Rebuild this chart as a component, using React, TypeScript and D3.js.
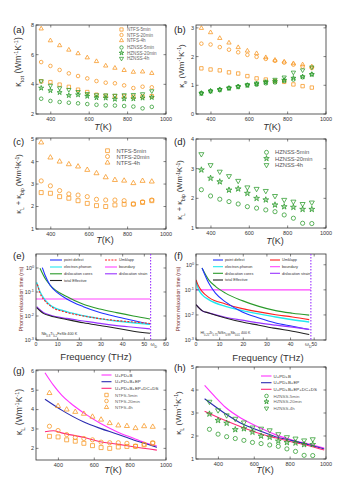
import React from 'react';
import * as d3 from 'd3';

// ---------------- data ----------------
const T = [350, 398, 446, 494, 542, 590, 638, 686, 734, 782, 830, 878, 926];
const ntfsNames = ['NTFS-5min', 'NTFS-20min', 'NTFS-4h'];
const hzNames = ['HZNSS-5min', 'HZNSS-20min', 'HZNSS-4h'];

// (a) total thermal conductivity
const ntfs5Tot = [4.2, 4.15, 3.98, 3.83, 3.64, 3.48, 3.3, 3.23, 3.2, 3.21, 3.17, 3.18, 3.2];
const ntfs20Tot = [5.5, 5.24, 4.97, 4.74, 4.56, 4.4, 4.22, 4.11, 4.07, 3.93, 3.75, 3.84, 3.8];
const ntfs4hTot = [7.75, 6.95, 6.62, 6.32, 6.08, 5.8, 5.55, 5.25, 5.1, 4.95, 4.83, 4.85, 4.75];
const hz5Tot = [3.03, 2.88, 2.81, 2.76, 2.72, 2.67, 2.62, 2.58, 2.57, 2.54, 2.5, 2.38, 2.48];
const hz20Tot = [3.75, 3.58, 3.45, 3.25, 3.3, 3.2, 3.1, 3.08, 3.0, 3.02, 3.03, 3.08, 3.12];
const hz4hTot = [4.22, 3.92, 3.75, 3.64, 3.5, 3.36, 3.28, 3.27, 3.25, 3.28, 3.3, 3.35, 3.55];

// (b) electronic thermal conductivity
const ntfs5E = [1.59, 1.55, 1.52, 1.45, 1.41, 1.32, 1.24, 1.2, 1.15, 1.12, 1.03, 0.97, 0.92];
const ntfs20E = [2.45, 2.42, 2.33, 2.24, 2.15, 2.06, 1.99, 1.92, 1.85, 1.79, 1.72, 1.65, 1.6];
const ntfs4hE = [2.99, 2.84, 2.64, 2.48, 2.32, 2.2, 2.11, 1.97, 1.88, 1.82, 1.76, 1.72, 1.65];
const hz5E = [0.73, 0.8, 0.85, 0.9, 0.96, 1.0, 1.02, 1.07, 1.1, 1.15, 1.2, 1.28, 1.38];
const hz20E = [0.72, 0.8, 0.85, 0.9, 0.95, 1.0, 1.05, 1.1, 1.13, 1.18, 1.25, 1.3, 1.38];
const hz4hE = [0.72, 0.79, 0.84, 0.9, 0.95, 1.02, 1.07, 1.13, 1.2, 1.28, 1.45, 1.53, 1.63];

// (c)/(g) and (d)/(h) lattice + bipolar
const ntfs5L = [2.62, 2.59, 2.44, 2.37, 2.26, 2.14, 2.04, 2.0, 2.07, 2.1, 2.11, 2.18, 2.26];
const ntfs20L = [3.14, 2.92, 2.71, 2.56, 2.51, 2.44, 2.32, 2.29, 2.29, 2.26, 2.11, 2.21, 2.29];
const ntfs4hL = [4.85, 4.18, 4.0, 3.88, 3.78, 3.63, 3.48, 3.3, 3.18, 3.15, 3.04, 3.14, 3.11];
const hz5L = [2.29, 2.08, 1.97, 1.89, 1.81, 1.72, 1.67, 1.61, 1.55, 1.44, 1.33, 1.16, 1.15];
const hz20L = [2.96, 2.68, 2.56, 2.28, 2.32, 2.17, 2.0, 1.95, 1.78, 1.72, 1.7, 1.63, 1.63];
const hz4hL = [3.49, 3.12, 2.9, 2.75, 2.59, 2.37, 2.32, 2.25, 2.08, 1.95, 1.89, 1.81, 1.86];

// (g) model curves
const modelNames = ['U+PD+B', 'U+PD+B+EP', 'U+PD+B+EP+DC+DS'];
const gT1 = [325, 372, 418, 465, 539, 633, 726, 819, 893, 949];
const gUPDB = [5.9, 5.26, 4.75, 4.35, 3.84, 3.29, 2.86, 2.52, 2.26, 2.12];
const gT2 = [325, 418, 539, 633, 726, 819, 893, 949];
const gEP = [4.53, 3.97, 3.37, 3.03, 2.74, 2.43, 2.22, 2.05];
const gT3 = [325, 372, 418, 539, 633, 726, 819, 949];
const gAll = [2.86, 2.91, 2.8, 2.57, 2.34, 2.22, 2.08, 1.91];
// (h) model curves
const hT1 = [323, 383, 439, 532, 625, 718, 811, 904, 990];
const hUPDB = [4.2, 3.69, 3.25, 2.75, 2.38, 2.06, 1.83, 1.65, 1.48];
const hT2 = [323, 439, 532, 625, 718, 811, 904, 990];
const hEP = [3.62, 2.97, 2.53, 2.24, 1.97, 1.8, 1.62, 1.44];
const hAll = [3.08, 2.67, 2.38, 2.12, 1.92, 1.74, 1.58, 1.39];

// (e) relaxation times (ns) vs frequency (THz)
const eBlueF = [2.92, 4.15, 6.46, 10.3, 14.15, 21.85, 29.5, 37.2, 44.9, 52.6];
const eBlueTau = [1.03, 0.513, 0.195, 0.0871, 0.0513, 0.0245, 0.0141, 0.00933, 0.00646, 0.00447];
const eGreenF = [1.85, 4.15, 6.46, 14.15, 21.85, 29.5, 37.2, 44.9, 52.6];
const eGreenTau = [0.968, 0.372, 0.195, 0.0646, 0.0309, 0.0195, 0.0138, 0.01, 0.0075];
const eCyanF = [0.31, 1.85, 4.15, 6.46, 14.15, 21.85, 29.5, 37.2, 44.9, 52.6];
const eCyanTau = [0.251, 0.102, 0.0468, 0.0288, 0.0151, 0.0102, 0.00776, 0.00617, 0.00525, 0.00447];
const eRedF = [0.62, 1.85, 4.15, 6.46, 14.15, 21.85, 29.5, 37.2, 44.9, 52.6];
const eRedTau = [0.209, 0.0912, 0.0422, 0.0269, 0.0141, 0.01, 0.00776, 0.00646, 0.00562, 0.0049];
const eVioF = [0.31, 3.38, 6.46, 14.15, 21.85, 29.5, 37.2, 44.9, 52.6];
const eVioTau = [0.0245, 0.0141, 0.011, 0.0079, 0.0062, 0.0049, 0.004, 0.0034, 0.0029];
const eBlkTau = [0.0224, 0.0129, 0.0102, 0.0072, 0.0052, 0.004, 0.0031, 0.0023, 0.0019];
const eBoundaryF = [0, 52.6];
const eBoundaryTau = [0.051, 0.051];
const eDebye = 52.9;

// (f)
const fBlueF = [2.55, 5.38, 8.22, 12.46, 19.55, 26.6, 33.7, 40.8, 47.9];
const fBlueTau = [0.741, 0.186, 0.0741, 0.0331, 0.0132, 0.0076, 0.0048, 0.00355, 0.00263];
const fGreenTau = [0.741, 0.251, 0.138, 0.0741, 0.0372, 0.0219, 0.0148, 0.0117, 0.0098];
const fRedF = [0, 1.13, 2.55, 5.38, 12.46, 19.55, 26.6, 33.7, 40.8, 47.9];
const fRedTau = [0.251, 0.138, 0.087, 0.0501, 0.0275, 0.0178, 0.0132, 0.0102, 0.0083, 0.00646];
const fCyanTau = [0.219, 0.102, 0.0646, 0.0407, 0.0219, 0.0148, 0.011, 0.0083, 0.00646, 0.00525];
const fVioF = [0, 2.55, 5.38, 12.46, 19.55, 26.6, 33.7, 40.8, 47.9];
const fVioTau = [0.0257, 0.0148, 0.012, 0.0081, 0.0062, 0.0048, 0.0039, 0.00324, 0.00263];
const fBlkTau = [0.0257, 0.0148, 0.012, 0.0076, 0.0052, 0.0039, 0.0029, 0.00224, 0.00166];
const fBoundaryF = [0, 48.6];
const fBoundaryTau = [0.1, 0.1];
const fDebye = 48.6;

const mechNames = ['point defect', 'Umklapp', 'electron-phonon', 'boundary', 'dislocation cores', 'dislocation strain', 'total Effective'];

const tTicks = [400, 600, 800, 1000];
const freqTicksE = [0, 10, 20, 30, 40, 50, 60];
const freqTicksF = [0, 10, 20, 30, 40, 50];
const logTicks = [1, 0.1, 0.01, 0.001];

// ---------------- styles ----------------
const ORANGE = '#f7941d';
const GREEN = '#2a9a2a';
const C_BLUE = '#2233ff';
const C_RED = '#ff2222';
const C_CYAN = '#22e8f0';
const C_MAG = '#ff44ff';
const C_GREEN = '#2a9a2a';
const C_VIO = '#9933ff';
const C_BLK = '#222222';
const M_MAG = '#ff33ff';
const M_BLUE = '#2b2bb0';
const M_PINK = '#ff2a78';
const INK = '#333';

type Sym = 'square' | 'circle' | 'tri' | 'tridown' | 'star';

function Marker({ x, y, sym, color, size }: { x: number; y: number; sym: Sym; color: string; size: number }) {
  let type: any = d3.symbolCircle;
  let area = Math.PI * (size / 2) ** 2;
  if (sym === 'square') { type = d3.symbolSquare; area = size * size * 0.9; }
  else if (sym === 'tri' || sym === 'tridown') { type = d3.symbolTriangle; area = (size * 1.2) ** 2 * 0.433; }
  else if (sym === 'star') { type = d3.symbolStar; area = size * size * 0.6; }
  const d = d3.symbol().type(type).size(area)() as string;
  return (
    <path d={d} transform={`translate(${x},${y})${sym === 'tridown' ? ' rotate(180)' : ''}`}
      fill={sym === 'star' ? color : 'none'} fillOpacity={sym === 'star' ? 0.35 : 1}
      stroke={color} strokeWidth={0.75} />
  );
}

type Pts = { vals: number[]; sym: Sym; color: string };
type Curve = { xs: number[]; ys: number[]; color: string; dash?: string; width?: number };

function Panel(p: {
  id: string; l: number; r: number; t: number; b: number;
  xDom: [number, number]; yDom: [number, number]; log?: boolean;
  xTicks: number[]; yTicks: number[]; points?: Pts[]; ms?: number; curves?: Curve[];
  fs?: number; xFmt?: (v: number) => any; yFmt?: (v: number) => any; children?: any;
}) {
  const fs = p.fs ?? 5.5;
  const x = d3.scaleLinear().domain(p.xDom).range([p.l, p.r]);
  const y: any = p.log ? d3.scaleLog().domain(p.yDom).range([p.b, p.t]) : d3.scaleLinear().domain(p.yDom).range([p.b, p.t]);
  const line = d3.line<[number, number]>().x(d => x(d[0])).y(d => y(d[1])).curve(d3.curveMonotoneX);
  return (
    <g>
      <defs>
        <clipPath id={p.id}><rect x={p.l} y={p.t} width={p.r - p.l} height={p.b - p.t} /></clipPath>
      </defs>
      <g clipPath={`url(#${p.id})`}>
        {(p.curves || []).map((c, i) => (
          <path key={i} d={line(c.xs.map((v, j) => [v, c.ys[j]] as [number, number])) as string}
            fill="none" stroke={c.color} strokeWidth={c.width ?? 1} strokeDasharray={c.dash} />
        ))}
      </g>
      {(p.points || []).map((s, si) => T.map((tv, i) => (
        <Marker key={`${si}-${i}`} x={x(tv)} y={y(s.vals[i])} sym={s.sym} color={s.color} size={p.ms ?? 4} />
      )))}
      <rect x={p.l} y={p.t} width={p.r - p.l} height={p.b - p.t} fill="none" stroke={INK} strokeWidth={0.8} />
      {p.xTicks.map(v => (
        <g key={'x' + v}>
          <line x1={x(v)} x2={x(v)} y1={p.b} y2={p.b - 2.5} stroke={INK} strokeWidth={0.6} />
          <line x1={x(v)} x2={x(v)} y1={p.t} y2={p.t + 2.5} stroke={INK} strokeWidth={0.6} />
          <text x={x(v)} y={p.b + fs + 1} fontSize={fs} textAnchor="middle" fill={INK}>{p.xFmt ? p.xFmt(v) : v}</text>
        </g>
      ))}
      {p.yTicks.map(v => (
        <g key={'y' + v}>
          <line x1={p.l} x2={p.l + 2.5} y1={y(v)} y2={y(v)} stroke={INK} strokeWidth={0.6} />
          <line x1={p.r} x2={p.r - 2.5} y1={y(v)} y2={y(v)} stroke={INK} strokeWidth={0.6} />
          <text x={p.l - 2} y={y(v) + fs * 0.35} fontSize={fs} textAnchor="end" fill={INK}>{p.yFmt ? p.yFmt(v) : v}</text>
        </g>
      ))}
      {p.children}
    </g>
  );
}

function SymLegend({ x, tx, ys, items, fs, size, color }: { x: number; tx: number; ys: number[]; items: { sym: Sym; color: string; label: string }[]; fs: number; size: number; color?: string }) {
  return (
    <g>
      {items.map((it, i) => (
        <g key={i}>
          <Marker x={x} y={ys[i]} sym={it.sym} color={it.color} size={size} />
          <text x={tx} y={ys[i] + fs * 0.35} fontSize={fs} fill={color ?? INK}>{it.label}</text>
        </g>
      ))}
    </g>
  );
}

function LineLegend({ x1, x2, tx, y, color, label, fs, dash, width }: { x1: number; x2: number; tx: number; y: number; color: string; label: string; fs: number; dash?: string; width?: number }) {
  return (
    <g>
      <line x1={x1} x2={x2} y1={y} y2={y} stroke={color} strokeWidth={width ?? 1} strokeDasharray={dash} />
      <text x={tx} y={y + fs * 0.35} fontSize={fs} fill={INK}>{label}</text>
    </g>
  );
}

function KLabel({ cx, cy, fs, parts }: { cx: number; cy: number; fs: number; parts: any }) {
  return (
    <text transform={`translate(${cx},${cy}) rotate(-90)`} textAnchor="middle" fontSize={fs} fill={INK}>{parts}</text>
  );
}

function unit(fs: number) {
  return [
    <tspan key="u1"> (Wm</tspan>,
    <tspan key="u2" baselineShift="super" fontSize={fs * 0.65}>-1</tspan>,
    <tspan key="u3">K</tspan>,
    <tspan key="u4" baselineShift="super" fontSize={fs * 0.65}>-1</tspan>,
    <tspan key="u5">)</tspan>,
  ];
}

function TLabel({ x, y, fs }: { x: number; y: number; fs: number }) {
  return (
    <text x={x} y={y} fontSize={fs} textAnchor="middle" fill={INK}>
      <tspan fontStyle="italic">T</tspan>(K)
    </text>
  );
}

function PanelTag({ x, y, s }: { x: number; y: number; s: string }) {
  return <text x={x} y={y} fontSize={9.5} fill="#222">{s}</text>;
}

const logFmt = (v: number) => {
  const e = Math.round(Math.log10(v));
  return <>10<tspan baselineShift="super" fontSize={3.8}>{e}</tspan></>;
};

export default function App() {
  const ntfsTotPts: Pts[] = [
    { vals: ntfs5Tot, sym: 'square', color: ORANGE },
    { vals: ntfs20Tot, sym: 'circle', color: ORANGE },
    { vals: ntfs4hTot, sym: 'tri', color: ORANGE },
    { vals: hz5Tot, sym: 'circle', color: GREEN },
    { vals: hz20Tot, sym: 'star', color: GREEN },
    { vals: hz4hTot, sym: 'tridown', color: GREEN },
  ];
  const ePts: Pts[] = [
    { vals: ntfs5E, sym: 'square', color: ORANGE },
    { vals: ntfs20E, sym: 'circle', color: ORANGE },
    { vals: ntfs4hE, sym: 'tri', color: ORANGE },
    { vals: hz5E, sym: 'circle', color: GREEN },
    { vals: hz20E, sym: 'star', color: GREEN },
    { vals: hz4hE, sym: 'tridown', color: GREEN },
  ];
  const ntfsL: Pts[] = [
    { vals: ntfs5L, sym: 'square', color: ORANGE },
    { vals: ntfs20L, sym: 'circle', color: ORANGE },
    { vals: ntfs4hL, sym: 'tri', color: ORANGE },
  ];
  const hzL: Pts[] = [
    { vals: hz5L, sym: 'circle', color: GREEN },
    { vals: hz20L, sym: 'star', color: GREEN },
    { vals: hz4hL, sym: 'tridown', color: GREEN },
  ];
  const ntfsItems = ntfsNames.map((n, i) => ({ label: n, sym: (['square', 'circle', 'tri'] as Sym[])[i], color: ORANGE }));
  const hzItems = hzNames.map((n, i) => ({ label: n, sym: (['circle', 'star', 'tridown'] as Sym[])[i], color: GREEN }));

  const eCurves: Curve[] = [
    { xs: eBoundaryF, ys: eBoundaryTau, color: C_MAG, width: 1.2 },
    { xs: eGreenF, ys: eGreenTau, color: C_GREEN, width: 1.1 },
    { xs: eBlueF, ys: eBlueTau, color: C_BLUE, width: 1.1 },
    { xs: eCyanF, ys: eCyanTau, color: C_CYAN, width: 1.4 },
    { xs: eRedF, ys: eRedTau, color: C_RED, width: 1.1, dash: '2,1.5' },
    { xs: eVioF, ys: eVioTau, color: C_VIO, width: 1.2 },
    { xs: eVioF, ys: eBlkTau, color: C_BLK, width: 1.1 },
  ];
  const fCurves: Curve[] = [
    { xs: fBoundaryF, ys: fBoundaryTau, color: C_MAG, width: 1.2 },
    { xs: fBlueF, ys: fGreenTau, color: C_GREEN, width: 1.1 },
    { xs: fRedF, ys: fCyanTau, color: C_CYAN, width: 1.4 },
    { xs: fRedF, ys: fRedTau, color: C_RED, width: 1.1 },
    { xs: fBlueF, ys: fBlueTau, color: C_BLUE, width: 1.1 },
    { xs: fVioF, ys: fVioTau, color: C_VIO, width: 1.2 },
    { xs: fVioF, ys: fBlkTau, color: C_BLK, width: 1.1 },
  ];
  const mechColors = [C_BLUE, C_RED, C_CYAN, C_MAG, C_GREEN, C_VIO, C_BLK];

  const xE = d3.scaleLinear().domain([0, 60]).range([36, 166]);
  const xF = d3.scaleLinear().domain([0, 55]).range([196, 326]);

  const mechLegend = (c1: number, c2: number, lw: number, ys: number[], dashU: boolean) =>
    mechNames.map((n, i) => {
      const col = i === 6 ? 0 : i % 2;
      const row = i === 6 ? 3 : Math.floor(i / 2);
      const x0 = col === 0 ? c1 : c2;
      return (
        <LineLegend key={n} x1={x0} x2={x0 + lw} tx={x0 + lw + 2} y={ys[row]} color={mechColors[i]} label={n} fs={3.8}
          dash={i === 1 && dashU ? '2,1.2' : undefined} width={1.1} />
      );
    });

  return (
    <svg width={355} height={500} style={{ position: 'absolute', left: 0, top: 0, background: '#fff' }}
      fontFamily="'Liberation Sans', Arial, Helvetica, sans-serif">
      <rect width={355} height={500} fill="#fff" />

      {/* (a) */}
      <Panel id="ca" l={36} r={166} t={25} b={114} xDom={[323, 1000]} yDom={[2, 8]} xTicks={tTicks} yTicks={[2, 4, 6, 8]}
        points={ntfsTotPts} ms={3.6}>
        <SymLegend x={121.5} tx={127} ys={[29.5, 35, 40.5, 47.5, 53, 58.5]} items={[...ntfsItems, ...hzItems]} fs={4.6} size={3.4} color="#666" />
      </Panel>
      <PanelTag x={13} y={33} s="(a)" />
      <KLabel cx={21} cy={62} fs={8.5} parts={[<tspan key="k">κ</tspan>, <tspan key="s" baselineShift="sub" fontSize={6}>tot</tspan>, ...unit(8.5)]} />
      <TLabel x={103} y={130} fs={9} />

      {/* (b) */}
      <Panel id="cb" l={196} r={326} t={25} b={114} xDom={[322, 1000]} yDom={[0, 3.1]} xTicks={tTicks} yTicks={[0, 1, 2, 3]}
        points={ePts} ms={3.6} />
      <PanelTag x={174} y={33} s="(b)" />
      <KLabel cx={184} cy={66} fs={8} parts={[<tspan key="k">κ</tspan>, <tspan key="s" baselineShift="sub" fontSize={5.5}>e</tspan>, ...unit(8)]} />
      <TLabel x={272} y={130} fs={9} />

      {/* (c) */}
      <Panel id="cc" l={36} r={166} t={138} b={229} xDom={[323, 1000]} yDom={[1, 5.05]} xTicks={tTicks} yTicks={[1, 2, 3, 4, 5]}
        points={ntfsL} ms={4.2}>
        <SymLegend x={107.5} tx={116.5} ys={[150.7, 156.5, 162.7]} items={ntfsItems} fs={5.8} size={4} color="#555" />
      </Panel>
      <PanelTag x={13} y={145} s="(c)" />
      <KLabel cx={21} cy={184} fs={7.5} parts={[<tspan key="k">κ</tspan>, <tspan key="s" baselineShift="sub" fontSize={5}>L</tspan>,
        <tspan key="p"> + κ</tspan>, <tspan key="s2" baselineShift="sub" fontSize={5}>bip</tspan>, ...unit(7.5)]} />
      <TLabel x={105} y={243} fs={9} />

      {/* (d) */}
      <Panel id="cd" l={196} r={326} t={139} b={228} xDom={[322, 1000]} yDom={[1, 4]} xTicks={tTicks} yTicks={[1, 2, 3, 4]}
        points={hzL} ms={4.2}>
        <SymLegend x={266.5} tx={275} ys={[152.3, 158.5, 165]} items={hzItems} fs={5.8} size={4} color="#555" />
      </Panel>
      <PanelTag x={174} y={145} s="(d)" />
      <KLabel cx={182} cy={190} fs={7.5} parts={[<tspan key="k">κ</tspan>, <tspan key="s" baselineShift="sub" fontSize={5}>L</tspan>,
        <tspan key="p"> + κ</tspan>, <tspan key="s2" baselineShift="sub" fontSize={5}>bip</tspan>, ...unit(7.5)]} />
      <TLabel x={275} y={244} fs={9} />

      {/* (e) */}
      <Panel id="ce" l={36} r={166} t={254} b={340} xDom={[0, 60]} yDom={[0.001, 3.83]} log xTicks={freqTicksE} yTicks={logTicks}
        curves={eCurves} fs={5.2} yFmt={logFmt}>
        <line x1={xE(eDebye)} x2={xE(eDebye)} y1={254} y2={340} stroke={C_VIO} strokeWidth={1.1} strokeDasharray="1.5,1.5" />
        {mechLegend(50, 105, 12, [260, 267, 273.8, 280.5], true)}
        <text x={41.5} y={335} fontSize={3.8} fill={INK}>Nb<tspan baselineShift="sub" fontSize={2.8}>0.8</tspan>Ti<tspan baselineShift="sub" fontSize={2.8}>0.2</tspan>FeSb{'    '}400 K</text>
        <text x={150.5} y={346.2} fontSize={5} fill={INK}>ω<tspan baselineShift="sub" fontSize={3.5}>D</tspan></text>
      </Panel>
      <PanelTag x={13} y={259} s="(e)" />
      <text transform="translate(23,299) rotate(-90)" textAnchor="middle" fontSize={5.3} fill="#7b3030">Phonon relaxation time (ns)</text>
      <text x={96} y={360} fontSize={9.5} textAnchor="middle" fill={INK}>Frequency (THz)</text>

      {/* (f) */}
      <Panel id="cf" l={196} r={326} t={254} b={340} xDom={[0, 55]} yDom={[0.001, 2.69]} log xTicks={freqTicksF} yTicks={logTicks}
        curves={fCurves} fs={5.2} yFmt={logFmt} xFmt={(v) => (v === 50 ? '' : v)}>
        <line x1={xF(fDebye)} x2={xF(fDebye)} y1={254} y2={340} stroke={C_VIO} strokeWidth={1.1} strokeDasharray="1.5,1.5" />
        {mechLegend(213, 270, 10, [260, 266.7, 273.3, 280], false)}
        <text x={200.5} y={334} fontSize={3.6} fill={INK}>Hf<tspan baselineShift="sub" fontSize={2.6}>0.25</tspan>Zr<tspan baselineShift="sub" fontSize={2.6}>0.75</tspan>NiSn<tspan baselineShift="sub" fontSize={2.6}>0.99</tspan>Sb<tspan baselineShift="sub" fontSize={2.6}>0.01</tspan>{'  '}400 K</text>
        <text x={305} y={346.2} fontSize={5} fill={INK}>ω<tspan baselineShift="sub" fontSize={3.5}>D</tspan>50</text>
      </Panel>
      <PanelTag x={174} y={259} s="(f)" />
      <text transform="translate(180,299) rotate(-90)" textAnchor="middle" fontSize={5.3} fill="#7b3030">Phonon relaxation time (ns)</text>
      <text x={268} y={361} fontSize={9.5} textAnchor="middle" fill={INK}>Frequency (THz)</text>

      {/* (g) */}
      <Panel id="cg" l={36} r={166} t={370} b={460} xDom={[275, 1000]} yDom={[1.4, 6.04]} xTicks={tTicks} yTicks={[2, 3, 4, 5, 6]}
        points={ntfsL} ms={4.2}
        curves={[
          { xs: gT1, ys: gUPDB, color: M_MAG, width: 1.1 },
          { xs: gT2, ys: gEP, color: M_BLUE, width: 1.1 },
          { xs: gT3, ys: gAll, color: M_PINK, width: 1.1 },
        ]}>
        {modelNames.map((n, i) => (
          <LineLegend key={n} x1={101.5} x2={111.5} tx={115} y={[375, 381.7, 388.3][i]} color={[M_MAG, M_BLUE, M_PINK][i]} label={n} fs={4.4} width={1.1} />
        ))}
        <SymLegend x={106.5} tx={115} ys={[395, 401, 407.3]} items={ntfsItems} fs={4.4} size={3.6} color="#666" />
      </Panel>
      <PanelTag x={13} y={374} s="(g)" />
      <KLabel cx={22} cy={412} fs={8.5} parts={[<tspan key="k">κ</tspan>, <tspan key="s" baselineShift="sub" fontSize={6}>L</tspan>, ...unit(8.5)]} />
      <TLabel x={113} y={473} fs={9} />

      {/* (h) */}
      <Panel id="ch" l={196} r={326} t={367} b={459} xDom={[275, 1000]} yDom={[1, 5]} xTicks={tTicks} yTicks={[1, 2, 3, 4, 5]}
        points={hzL} ms={4.2}
        curves={[
          { xs: hT1, ys: hUPDB, color: M_MAG, width: 1.1 },
          { xs: hT2, ys: hEP, color: M_BLUE, width: 1.1 },
          { xs: hT2, ys: hAll, color: M_PINK, width: 1.1 },
        ]}>
        {modelNames.map((n, i) => (
          <LineLegend key={n} x1={261} x2={271.5} tx={273.5} y={[376, 382.7, 389.3][i]} color={[M_MAG, M_BLUE, M_PINK][i]} label={n} fs={4.4} width={1.1} />
        ))}
        <SymLegend x={266.5} tx={273.5} ys={[396, 401.7, 408.3]} items={hzItems} fs={4.4} size={3.6} color="#666" />
      </Panel>
      <PanelTag x={174} y={371} s="(h)" />
      <KLabel cx={181} cy={413} fs={8} parts={[<tspan key="k">κ</tspan>, <tspan key="s" baselineShift="sub" fontSize={5.5}>L</tspan>, ...unit(8)]} />
      <TLabel x={265} y={473} fs={9} />
    </svg>
  );
}
